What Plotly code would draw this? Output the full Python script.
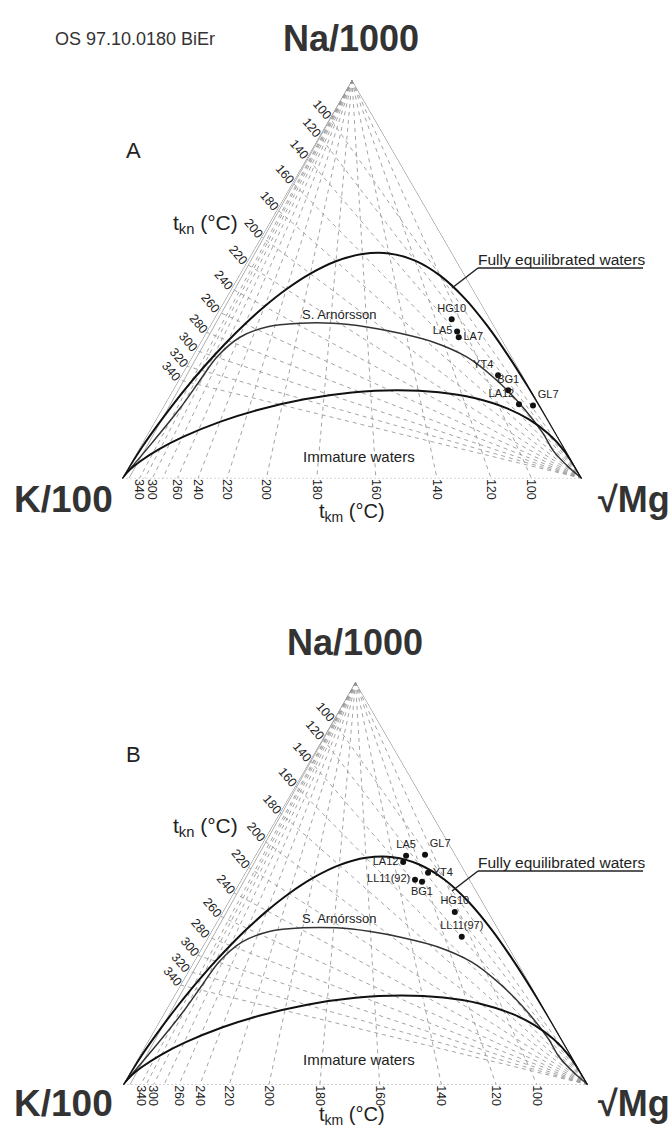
import plotly.graph_objects as go

W, H = 672, 1141

# ---- isotherm scales (positions of the temperature ticks on the triangle edges) ----
tkn_labels = [100, 120, 140, 160, 180, 200, 220, 240, 260, 280, 300, 320, 340]
# Na fraction where each t_kn isotherm meets the Na-K edge
tkn_na_frac = [0.9042, 0.8592, 0.8045, 0.7421, 0.6750, 0.6064, 0.5394,
               0.4763, 0.4185, 0.3668, 0.3213, 0.2817, 0.2474]
tkm_labels = [100, 120, 140, 160, 180, 200, 220, 240, 260, 280, 300, 320, 340]
# K fraction where each t_km isotherm meets the K-Mg edge
tkm_k_frac = [0.1097, 0.1976, 0.3152, 0.4481, 0.5766, 0.6861, 0.7716,
              0.8347, 0.8797, 0.9117, 0.9343, 0.9504, 0.9620]
tkm_unlabelled = [280, 320]

# ---- curves (ternary fractions Na/1000, K/100, sqrt(Mg)) ----
full_na = [0, 0.1557, 0.2273, 0.3056, 0.3832, 0.4531, 0.5089, 0.5468, 0.5647, 0.5632, 0.5450,
           0.5139, 0.4747, 0.4315, 0.3877, 0.3456, 0.3066, 0.2715, 0.2403, 0.1891, 0.1281, 0.0795, 0]
full_k = [0, 0.0007, 0.0023, 0.0063, 0.0145, 0.0295, 0.0539, 0.0896, 0.1372, 0.1957, 0.2624,
          0.3335, 0.4054, 0.4745, 0.5387, 0.5966, 0.6478, 0.6924, 0.7309, 0.7921, 0.8622, 0.9161, 1]
full_mg = [1, 0.8436, 0.7704, 0.6881, 0.6023, 0.5174, 0.4372, 0.3637, 0.2981, 0.2411, 0.1926,
           0.1526, 0.1200, 0.0940, 0.0736, 0.0578, 0.0456, 0.0361, 0.0288, 0.0188, 0.0097, 0.0044, 0]

arn_na = [0, 0.0829, 0.1759, 0.2462, 0.3040, 0.3543, 0.3802, 0.3894, 0.3894, 0.3802, 0.3643,
          0.3425, 0.3048, 0.2545, 0.1960, 0.1131, 0.0704, 0.0251, 0]
arn_k = [1, 0.8977, 0.7860, 0.7073, 0.6421, 0.5664, 0.4953, 0.4184, 0.3467, 0.2778, 0.2135,
         0.1527, 0.0982, 0.0662, 0.0440, 0.0282, 0.0279, 0.0136, 0]
arn_mg = [0, 0.0194, 0.0381, 0.0465, 0.0539, 0.0793, 0.1245, 0.1922, 0.2639, 0.3420, 0.4222,
          0.5048, 0.5970, 0.6793, 0.7600, 0.8587, 0.9017, 0.9613, 1]

imm_na = [0, 0.0715, 0.1125, 0.1473, 0.1757, 0.2016, 0.2163, 0.2214, 0.2155, 0.1985, 0.1710,
          0.1425, 0.1048, 0.0735, 0.0438, 0.0227, 0]
imm_k = [0, 0.0046, 0.0174, 0.0406, 0.0749, 0.1331, 0.2032, 0.2920, 0.3922, 0.5046, 0.6217,
         0.7146, 0.8138, 0.8824, 0.9374, 0.9708, 1]
imm_mg = [1, 0.9239, 0.8702, 0.8121, 0.7494, 0.6653, 0.5805, 0.4866, 0.3922, 0.2968, 0.2072,
          0.1429, 0.0814, 0.0441, 0.0187, 0.0065, 0]

# ---- samples ----
a_names = ['HG10', 'LA5', 'LA7', 'YT4', 'BG1', 'LA12', 'GL7']
a_na = [0.3995, 0.369, 0.354, 0.259, 0.221, 0.186, 0.183]
a_k = [0.0835, 0.087, 0.091, 0.053, 0.050, 0.044, 0.015]
a_mg = [0.517, 0.544, 0.555, 0.688, 0.729, 0.770, 0.802]
a_pos = ['top center', 'middle left', 'middle right', 'top left', 'top center', 'top left', 'top right']

b_names = ['LA12', 'LA5', 'GL7', 'YT4', 'LL11(92)', 'BG1', 'HG10', 'LL11(97)']
b_na = [0.553, 0.568, 0.571, 0.526, 0.509, 0.504, 0.429, 0.367]
b_k = [0.121, 0.107, 0.065, 0.081, 0.1175, 0.105, 0.072, 0.088]
b_mg = [0.326, 0.3245, 0.364, 0.393, 0.3735, 0.391, 0.499, 0.545]
b_pos = ['middle left', 'top center', 'top right', 'middle right', 'middle left', 'bottom center',
         'top center', 'top center']

FONT = 'Liberation Sans, Arial, sans-serif'
GRID = '#9a9a9a'

fig = go.Figure()


def line(subplot, a, b, c, color, width, dash='solid', shape='linear'):
    fig.add_trace(go.Scatterternary(
        a=a, b=b, c=c, mode='lines', subplot=subplot, cliponaxis=False,
        line=dict(color=color, width=width, dash=dash, shape=shape, smoothing=0.8),
        hoverinfo='skip', showlegend=False))


def panel(subplot, names, na, k, mg, pos):
    for f in tkn_na_frac:
        line(subplot, [0, f], [0, 1 - f], [1, 0], GRID, 0.9, '4px,4px')
    for g in tkm_k_frac:
        line(subplot, [1, 0], [0, g], [0, 1 - g], GRID, 0.9, '4px,4px')
    # triangle edges
    line(subplot, [1, 0], [0, 1], [0, 0], '#777', 1)
    line(subplot, [1, 0], [0, 0.985], [0, 0.015], '#999', 0.8)
    line(subplot, [1, 0], [0, 0], [0, 1], '#777', 1)
    line(subplot, [0, 0], [1, 0], [0, 1], '#bbbbbb', 1, '2px,2px')
    # curves
    line(subplot, full_na, full_k, full_mg, '#111', 2, shape='spline')
    line(subplot, arn_na, arn_k, arn_mg, '#333', 1.5, shape='spline')
    line(subplot, imm_na, imm_k, imm_mg, '#111', 2, shape='spline')
    fig.add_trace(go.Scatterternary(
        a=na, b=k, c=mg, mode='markers+text', subplot=subplot, cliponaxis=False,
        text=names, textposition=pos, textfont=dict(family=FONT, size=11, color='#222'),
        marker=dict(color='#111', size=6), hoverinfo='skip', showlegend=False))


panel('ternary', a_names, a_na, a_k, a_mg, a_pos)
panel('ternary2', b_names, b_na, b_k, b_mg, b_pos)

shown_tkm = [(g, t) for g, t in zip(tkm_k_frac, tkm_labels) if t not in tkm_unlabelled]


def tern_layout(xd, yd):
    return dict(
        domain=dict(x=xd, y=yd), sum=1, bgcolor='white',
        aaxis=dict(min=0, showgrid=False, showline=False, ticks='', tickmode='array',
                   tickvals=tkn_na_frac, ticktext=[str(t) for t in tkn_labels], tickangle=50,
                   tickfont=dict(family=FONT, size=12.5, color='#222'), title=dict(text='')),
        baxis=dict(min=0, showgrid=False, showline=False, ticks='', tickmode='array',
                   tickvals=[g for g, _ in shown_tkm], ticktext=[str(t) for _, t in shown_tkm],
                   tickangle=90, tickfont=dict(family=FONT, size=12.5, color='#222'),
                   title=dict(text='')),
        caxis=dict(min=0, showgrid=False, showline=False, ticks='', showticklabels=False,
                   title=dict(text='')),
    )


def P(x, y):
    return x / W, 1 - y / H


anns = []


def txt(x, y, s, size, bold=False, color='#222', angle=0):
    px, py = P(x, y)
    anns.append(dict(x=px, y=py, xref='paper', yref='paper', text=('<b>%s</b>' % s) if bold else s,
                     showarrow=False, xanchor='center', yanchor='middle', textangle=angle,
                     font=dict(family=FONT, size=size, color=color)))


txt(135, 39, 'OS 97.10.0180 BiEr', 18, color='#333')
for dy, lab in [(0, 'A'), (603, 'B')]:
    txt(351 + (4 if dy else 0), 39 + dy, 'Na/1000', 36, bold=True, color='#333')
    txt(133, 151 + dy, lab, 22)
    txt(205, 224 + dy, 't<sub>kn</sub> (°C)', 21)
    txt(561, 259 + dy, 'Fully equilibrated waters', 15.5)
    txt(339, 315 + dy, 'S. Arnórsson', 13)
    txt(359, 456 + dy, 'Immature waters', 15)
    txt(63, 500 + dy, 'K/100', 37, bold=True, color='#333')
    txt(634, 500 + dy, '√Mg', 36, bold=True, color='#333')
    txt(352, 512 + dy, 't<sub>km</sub> (°C)', 20)

shapes = []
for dy in [0, 603]:
    for (x0, y0, x1, y1) in [(478, 268, 643, 268), (478, 268, 452, 288)]:
        a0, b0 = P(x0, y0 + dy)
        a1, b1 = P(x1, y1 + dy)
        shapes.append(dict(type='line', xref='paper', yref='paper', x0=a0, y0=b0, x1=a1, y1=b1,
                           line=dict(color='#222', width=1.5)))

fig.update_layout(
    width=W, height=H, margin=dict(l=0, r=0, t=0, b=0),
    paper_bgcolor='white', plot_bgcolor='white',
    ternary=tern_layout([0.18155, 0.86607], [0.5753, 0.9353]),
    ternary2=tern_layout([0.18304, 0.87500], [0.04585, 0.40585]),
    annotations=anns, shapes=shapes, showlegend=False,
)

fig.write_html('out.html', config={'displayModeBar': False})
